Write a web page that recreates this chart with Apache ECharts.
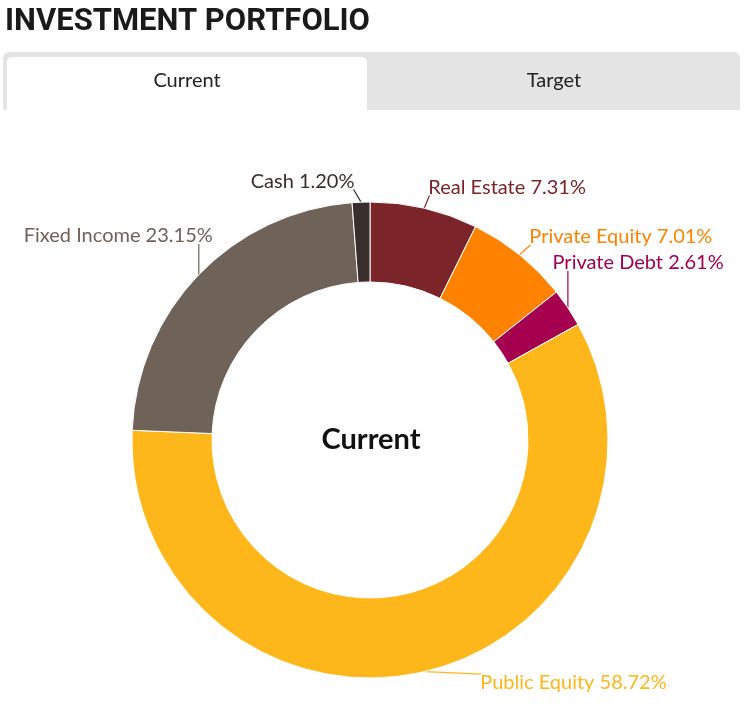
<!DOCTYPE html>
<html>
<head>
<meta charset="utf-8">
<script src="https://cdn.jsdelivr.net/npm/echarts@6/dist/echarts.min.js"></script>
<style>
  html, body { margin: 0; padding: 0; background: #fff; }
  #main { width: 745px; height: 712px; }
</style>
</head>
<body>
<div id="main"></div>
<script>
// 资产类别
const categories = ['Real Estate', 'Private Equity', 'Private Debt', 'Public Equity', 'Fixed Income', 'Cash'];
// 当前占比 (%)
const values = [7.31, 7.01, 2.61, 58.72, 23.15, 1.20];
// 颜色
const colors = ['#7B2429', '#FF8200', '#A50050', '#FDB71A', '#6F6259', '#382F2D'];
// 标签
const tabs = ['Current', 'Target'];

// 标签微调 (相对默认位置)
const labelShift = [[-8, -7], [-8, -7], [-36, -37], [43, -3], [33, -29], [3, -7]];

const chart = echarts.init(document.getElementById('main'));

const pieData = categories.map(function (name, i) {
    return {
        name: name,
        value: values[i],
        itemStyle: { color: colors[i] },
        label: { color: colors[i] },
        labelLine: { lineStyle: { color: colors[i] } }
    };
});

//引导线连到移动后的标签
function moveLabel(p) {
    const s = labelShift[p.dataIndex];
    const r = p.labelRect;
    const x0 = r.x + s[0], y0 = r.y + s[1];
    const pts = p.labelLinePoints;
    if (!pts) {
        return { dx: s[0], dy: s[1] };
    }
    const start = pts[0];
    const ex = Math.min(Math.max(start[0], x0 + 1), x0 + r.width - 1);
    const ey = Math.min(Math.max(start[1], y0 + 2), y0 + r.height - 2);
    return {
        dx: s[0],
        dy: s[1],
        labelLinePoints: [start, [ex, ey]]
    };
}

const option = {
    animation: false,
    graphic: [
        {
            type: 'text', x: 5, y: 22,
            style: { text: 'INVESTMENT PORTFOLIO', font: 'bold 31px Roboto', fill: '#1a1a1a', verticalAlign: 'middle' }
        },
        {
            type: 'rect', shape: { x: 3, y: 52, width: 737, height: 58, r: [6, 6, 0, 0] },
            style: { fill: '#E4E4E4' }
        },
        {
            type: 'rect', shape: { x: 7, y: 57, width: 360, height: 53, r: [5, 5, 0, 0] },
            style: { fill: '#ffffff' }
        },
        {
            type: 'text', x: 187, y: 81,
            style: { text: tabs[0], font: '20px Lato', fill: '#222', align: 'center', verticalAlign: 'middle' }
        },
        {
            type: 'text', x: 554, y: 81,
            style: { text: tabs[1], font: '20px Lato', fill: '#222', align: 'center', verticalAlign: 'middle' }
        },
        {
            type: 'text', x: 371, y: 440,
            style: { text: tabs[0], font: 'bold 29px Lato', fill: '#111', align: 'center', verticalAlign: 'middle' }
        }
    ],
    series: [{
        type: 'pie',
        center: [370, 440],
        radius: [158, 238],
        startAngle: 90,
        clockwise: true,
        avoidLabelOverlap: false,
        itemStyle: { borderColor: '#fff', borderWidth: 1 },
        label: {
            show: true,
            position: 'outside',
            fontFamily: 'Lato',
            fontSize: 20,
            formatter: function (p) { return p.name + ' ' + p.value.toFixed(2) + '%'; }
        },
        labelLine: { show: true, length: 14, length2: 4, lineStyle: { width: 1.2 } },
        labelLayout: moveLabel,
        data: pieData
    }]
};

chart.setOption(option);
</script>
</body>
</html>
